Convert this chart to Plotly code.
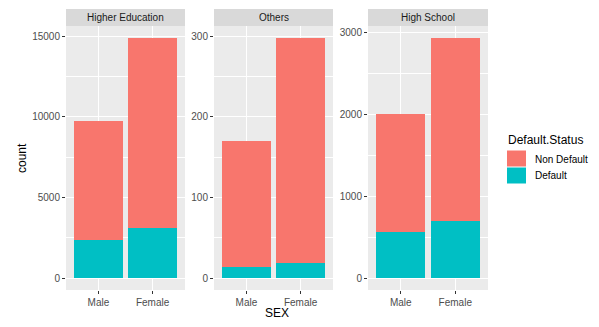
import plotly.graph_objects as go

# ---- data ----
panels = ["Higher Education", "Others", "High School"]
sexes = ["Male", "Female"]
default_counts = {
    "Higher Education": [2370, 3095],
    "Others": [14, 19],
    "High School": [558, 700],
}
non_default_counts = {
    "Higher Education": [7350, 11785],
    "Others": [156, 279],
    "High School": [1446, 2237],
}
y_dticks = {"Higher Education": 5000, "Others": 100, "High School": 1000}

# ---- layout geometry (pixels) ----
W, H = 599, 327
panel_x = [(66, 185), (214, 333), (368, 488)]
plot_top, plot_bot = 26, 290
strip_top = 9

COL_ND = "#F8766D"
COL_D = "#00BFC4"
FONT = "Liberation Sans, Arial, sans-serif"

def px_x(v):
    return v / W

def px_y(v):
    return 1 - v / H

fig = go.Figure()
shapes, annotations = [], []

for i, p in enumerate(panels):
    xa = "x" if i == 0 else f"x{i+1}"
    ya = "y" if i == 0 else f"y{i+1}"
    fig.add_trace(go.Bar(x=sexes, y=default_counts[p], name="Default",
                         marker=dict(color=COL_D, line=dict(width=0)), width=0.9,
                         xaxis=xa, yaxis=ya, showlegend=False))
    fig.add_trace(go.Bar(x=sexes, y=non_default_counts[p], name="Non Default",
                         marker=dict(color=COL_ND, line=dict(width=0)), width=0.9,
                         xaxis=xa, yaxis=ya, showlegend=False))
    totals = [a + b for a, b in zip(default_counts[p], non_default_counts[p])]
    mx = max(totals)
    dt = y_dticks[p]
    x0, x1 = panel_x[i]
    xkey = "xaxis" if i == 0 else f"xaxis{i+1}"
    ykey = "yaxis" if i == 0 else f"yaxis{i+1}"
    fig.update_layout(**{
        xkey: dict(domain=[px_x(x0), px_x(x1)], anchor=ya, type="category",
                   categoryorder="array", categoryarray=sexes,
                   range=[-0.6, 1.6], showgrid=True, gridcolor="white", gridwidth=1.1,
                   ticks="outside", ticklen=3, tickcolor="#333333", tickwidth=1,
                   tickfont=dict(family=FONT, size=10, color="#4D4D4D"),
                   zeroline=False, showline=False, fixedrange=True),
        ykey: dict(domain=[px_y(plot_bot), px_y(plot_top)], anchor=xa,
                   range=[-0.05 * mx, 1.05 * mx], dtick=dt, tick0=0, tickformat="d",
                   showgrid=True, gridcolor="white", gridwidth=1.1,
                   minor=dict(dtick=dt / 2, tick0=0, showgrid=True,
                              gridcolor="white", gridwidth=0.5, ticks=""),
                   ticks="outside", ticklen=3, tickcolor="#333333", tickwidth=1,
                   tickfont=dict(family=FONT, size=10, color="#4D4D4D"),
                   zeroline=False, showline=False, fixedrange=True),
    })
    # panel background
    shapes.append(dict(type="rect", xref="paper", yref="paper",
                       x0=px_x(x0), x1=px_x(x1), y0=px_y(plot_bot), y1=px_y(plot_top),
                       fillcolor="#EBEBEB", line=dict(width=0), layer="below"))
    # strip
    shapes.append(dict(type="rect", xref="paper", yref="paper",
                       x0=px_x(x0), x1=px_x(x1), y0=px_y(plot_top), y1=px_y(strip_top),
                       fillcolor="#D9D9D9", line=dict(width=0), layer="below"))
    annotations.append(dict(text=p, xref="paper", yref="paper",
                            x=px_x((x0 + x1) / 2), y=px_y((strip_top + plot_top) / 2),
                            showarrow=False, xanchor="center", yanchor="middle",
                            font=dict(family=FONT, size=10, color="#1A1A1A")))

# axis titles
annotations.append(dict(text="SEX", xref="paper", yref="paper", x=px_x(277), y=px_y(313),
                        showarrow=False, xanchor="center", yanchor="middle",
                        font=dict(family=FONT, size=12, color="black")))
annotations.append(dict(text="count", xref="paper", yref="paper", x=px_x(22), y=px_y(158),
                        showarrow=False, xanchor="center", yanchor="middle", textangle=-90,
                        font=dict(family=FONT, size=12, color="black")))

# legend (drawn)
annotations.append(dict(text="Default.Status", xref="paper", yref="paper", x=px_x(506), y=px_y(140),
                        showarrow=False, xanchor="left", yanchor="middle",
                        font=dict(family=FONT, size=12, color="black")))
legend_items = [("Non Default", COL_ND, 150.5), ("Default", COL_D, 167.5)]
for label, col, ytop in legend_items:
    shapes.append(dict(type="rect", xref="paper", yref="paper",
                       x0=px_x(507), x1=px_x(526), y0=px_y(ytop + 16), y1=px_y(ytop),
                       fillcolor=col, line=dict(width=0)))
    annotations.append(dict(text=label, xref="paper", yref="paper", x=px_x(533), y=px_y(ytop + 8.5),
                            showarrow=False, xanchor="left", yanchor="middle",
                            font=dict(family=FONT, size=10, color="black")))

fig.update_layout(
    width=W, height=H, margin=dict(l=0, r=0, t=0, b=0),
    barmode="stack", bargap=0.1,
    paper_bgcolor="white", plot_bgcolor="#EBEBEB",
    shapes=shapes, annotations=annotations, showlegend=False,
)

fig.write_html("out.html")
